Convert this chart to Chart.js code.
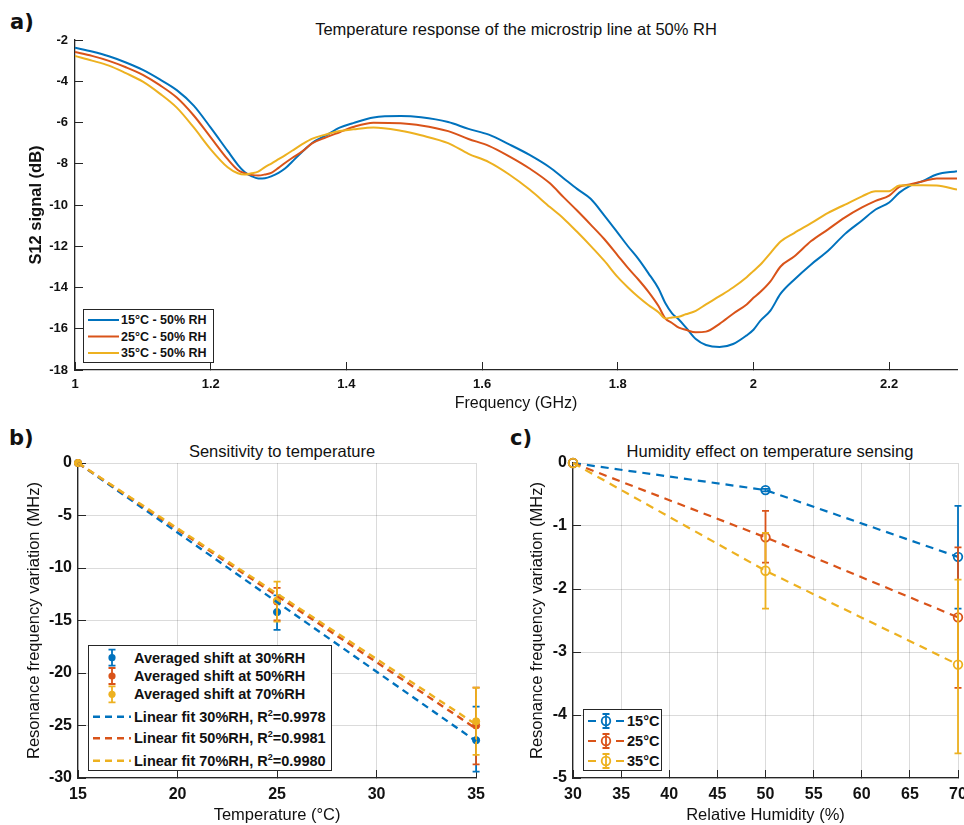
<!DOCTYPE html>
<html><head><meta charset="utf-8">
<script src="https://cdn.jsdelivr.net/npm/chart.js@4.4.0/dist/chart.umd.min.js"></script>
<style>
html,body{margin:0;padding:0;background:#fff;overflow:hidden;width:964px;height:825px;}
body{position:relative;font-family:"Liberation Sans",Arial,sans-serif;color:#1a1a1a;}
.panel{position:absolute;}
.lbl{position:absolute;font-family:"DejaVu Sans",sans-serif;font-weight:bold;font-size:21px;line-height:1;color:#111;}
.ttl{position:absolute;transform:translate(-50%,-50%);white-space:nowrap;font-size:16.5px;line-height:1;color:#111;}
.legend{position:absolute;background:#fff;border:1.2px solid #262626;box-sizing:border-box;}
.legend svg{position:absolute;left:0;top:0;}
.row{position:absolute;white-space:nowrap;font-weight:bold;line-height:1;transform:translateY(-50%);color:#111;}
.row sup{font-size:9px;vertical-align:6px;line-height:0;}
</style></head><body>

<div class="lbl" style="left:10px;top:12px;">a)</div>
<div class="ttl" style="left:516px;top:29px;">Temperature response of the microstrip line at 50% RH</div>
<div class="panel" style="left:0;top:0;width:964px;height:420px;"><canvas id="cA"></canvas></div>

<div class="lbl" style="left:9px;top:428px;">b)</div>
<div class="ttl" style="left:282px;top:451px;">Sensitivity to temperature</div>
<div class="panel" style="left:0;top:420px;width:500px;height:405px;"><canvas id="cB"></canvas></div>

<div class="lbl" style="left:510px;top:428px;">c)</div>
<div class="ttl" style="left:770px;top:451px;">Humidity effect on temperature sensing</div>
<div class="panel" style="left:482px;top:420px;width:500px;height:405px;"><canvas id="cC"></canvas></div>

<div id="legA" class="legend" style="left:83px;top:309px;width:131px;height:54px;"></div>
<div id="legB" class="legend" style="left:88px;top:645px;width:244px;height:126px;"></div>
<div id="legC" class="legend" style="left:583px;top:709px;width:79px;height:62px;"></div>

<script>
// ---------------- Panel a data ----------------
const freqGHz = [1.00,1.025,1.05,1.075,1.10,1.125,1.15,1.175,1.20,1.225,1.24,1.25,1.26,1.27,1.28,1.29,1.30,1.31,1.32,1.335,1.35,1.37,1.39,1.41,1.44,1.48,1.51,1.55,1.58,1.61,1.64,1.67,1.70,1.72,1.74,1.76,1.78,1.80,1.815,1.83,1.845,1.86,1.87,1.88,1.89,1.90,1.915,1.93,1.95,1.97,1.99,2.00,2.01,2.025,2.04,2.06,2.085,2.11,2.135,2.16,2.18,2.20,2.215,2.23,2.25,2.27,2.30];
const s12_15C = [-2.37,-2.56,-2.79,-3.09,-3.45,-3.91,-4.43,-5.18,-6.25,-7.38,-8.05,-8.40,-8.60,-8.71,-8.70,-8.60,-8.44,-8.22,-7.90,-7.42,-6.98,-6.63,-6.25,-6.03,-5.76,-5.69,-5.75,-5.98,-6.31,-6.59,-7.06,-7.57,-8.18,-8.70,-9.22,-9.70,-10.50,-11.35,-12.00,-12.60,-13.30,-14.05,-14.75,-15.25,-15.55,-15.92,-16.50,-16.79,-16.89,-16.74,-16.32,-16.05,-15.62,-15.12,-14.30,-13.62,-12.88,-12.22,-11.40,-10.75,-10.22,-9.88,-9.40,-9.08,-8.83,-8.52,-8.36];
const s12_25C = [-2.58,-2.77,-3.01,-3.32,-3.69,-4.19,-4.79,-5.66,-6.72,-7.78,-8.30,-8.46,-8.54,-8.57,-8.52,-8.43,-8.20,-7.95,-7.72,-7.40,-7.00,-6.72,-6.47,-6.22,-6.01,-6.04,-6.14,-6.42,-6.80,-7.13,-7.64,-8.23,-8.95,-9.62,-10.27,-10.95,-11.65,-12.45,-13.05,-13.60,-14.20,-14.90,-15.50,-15.72,-15.95,-16.05,-16.17,-16.14,-15.76,-15.27,-14.82,-14.50,-14.22,-13.70,-12.98,-12.50,-11.75,-11.18,-10.60,-10.12,-9.80,-9.55,-9.12,-9.00,-8.85,-8.71,-8.72];
const s12_35C = [-2.78,-3.00,-3.24,-3.61,-4.02,-4.60,-5.28,-6.24,-7.30,-8.17,-8.46,-8.52,-8.46,-8.38,-8.16,-7.98,-7.78,-7.58,-7.37,-7.05,-6.78,-6.58,-6.41,-6.33,-6.24,-6.40,-6.62,-7.00,-7.52,-7.92,-8.52,-9.25,-10.10,-10.65,-11.30,-11.98,-12.70,-13.50,-14.00,-14.45,-14.85,-15.20,-15.50,-15.45,-15.42,-15.30,-15.13,-14.82,-14.42,-14.00,-13.50,-13.20,-12.90,-12.33,-11.77,-11.36,-10.88,-10.38,-9.98,-9.58,-9.33,-9.33,-9.05,-9.04,-9.04,-9.05,-9.25];
const seriesA = ['15°C - 50% RH','25°C - 50% RH','35°C - 50% RH'];
const freqTicks = [1, 1.2, 1.4, 1.6, 1.8, 2, 2.2];
const s12Ticks = [-2, -4, -6, -8, -10, -12, -14, -16, -18];

// ---------------- Panel b data ----------------
const tempC = [15, 25, 35];
const shift30 = [0, -14.2, -26.4];
const shift30Low = [null, -15.9, -29.4];
const shift30High = [null, -12.6, -23.2];
const shift50 = [0, -13.2, -25.0];
const shift50Low = [null, -15.0, -28.7];
const shift50High = [null, -11.9, -21.4];
const shift70 = [0, -13.1, -24.6];
const shift70Low = [null, -15.1, -27.8];
const shift70High = [null, -11.3, -21.4];
const fitTemp = [15, 35];
const fit30 = [0, -26.5];
const fit50 = [0, -25.3];
const fit70 = [0, -24.9];
const avgLabels = ['Averaged shift at 30%RH','Averaged shift at 50%RH','Averaged shift at 70%RH'];
const fitNames = ['Linear fit 30%RH','Linear fit 50%RH','Linear fit 70%RH'];
const fitR2 = ['0.9978','0.9981','0.9980'];
const tempTicks = [15, 20, 25, 30, 35];
const shiftTicks = [0, -5, -10, -15, -20, -25, -30];

// ---------------- Panel c data ----------------
const rhPct = [30, 50, 70];
const d15 = [0, -0.43, -1.49];
const d15Low = [null, -0.45, -2.31];
const d15High = [null, -0.41, -0.68];
const d25 = [0, -1.18, -2.45];
const d25Low = [null, -1.58, -3.57];
const d25High = [null, -0.76, -1.34];
const d35 = [0, -1.71, -3.20];
const d35Low = [null, -2.31, -4.61];
const d35High = [null, -1.11, -1.85];
const seriesC = ['15°C','25°C','35°C'];
const rhTicks = [30, 35, 40, 45, 50, 55, 60, 65, 70];
const rhShiftTicks = [0, -1, -2, -3, -4, -5];

// ---------------- styling ----------------
const C_BLUE = '#0072BD', C_RED = '#D95319', C_YEL = '#EDB120';
const FF = '"Liberation Sans", Arial, sans-serif';
const AX = '#262626', GRID = 'rgba(0,0,0,0.14)', TXT = '#111';
const pts = (xs, ys) => xs.map((x, i) => ({x: x, y: ys[i]}));

const errorBars = {
  id: 'errorBars',
  beforeDatasetDraw(chart, args) {
    const ds = chart.data.datasets[args.index];
    if (!ds.errLow) return;
    const xs = chart.scales.x, ys = chart.scales.y, ctx = chart.ctx;
    const cap = ds.errCap || 3.5;
    ctx.save();
    ctx.setLineDash([]);
    ctx.strokeStyle = ds.errColor;
    ctx.lineWidth = ds.errWidth || 1.8;
    ds.data.forEach((p, i) => {
      const lo = ds.errLow[i], hi = ds.errHigh[i];
      if (lo == null || hi == null) return;
      const x = xs.getPixelForValue(p.x), y1 = ys.getPixelForValue(lo), y2 = ys.getPixelForValue(hi);
      ctx.beginPath();
      ctx.moveTo(x, y1); ctx.lineTo(x, y2);
      ctx.moveTo(x - cap, y1); ctx.lineTo(x + cap, y1);
      ctx.moveTo(x - cap, y2); ctx.lineTo(x + cap, y2);
      ctx.stroke();
    });
    ctx.restore();
  }
};

function axis(opts) {
  return {
    type: 'linear', min: opts.min, max: opts.max,
    afterBuildTicks: s => { s.ticks = opts.ticks.map(v => ({value: v})); },
    afterFit: s => { if (opts.w != null) s.width = opts.w; if (opts.h != null) s.height = opts.h; },
    grid: {display: true, drawOnChartArea: opts.grid, color: GRID, lineWidth: 1, drawTicks: true,
           tickLength: -8, tickColor: AX, tickWidth: 1},
    border: {display: true, color: AX, width: 1.3},
    ticks: {padding: opts.pad, color: TXT, autoSkip: false, maxRotation: 0, minRotation: 0,
            font: {family: FF, size: opts.tickSize, weight: 'bold'}, callback: v => String(v)},
    title: {display: true, text: opts.title, color: TXT,
            font: {family: FF, size: opts.titleSize, weight: opts.titleWeight || 'normal'},
            padding: {top: 0, bottom: opts.titlePadB || 0}}
  };
}

const base = {
  responsive: true, maintainAspectRatio: false, animation: false, devicePixelRatio: 1, events: [],
  plugins: {legend: {display: false}, tooltip: {enabled: false}, title: {display: false}}
};

// ---------------- Panel a ----------------
const colsA = [C_BLUE, C_RED, C_YEL];
const dataA = [s12_15C, s12_25C, s12_35C];
new Chart(document.getElementById('cA'), {
  type: 'line',
  data: {datasets: dataA.map((d, i) => ({
    label: seriesA[i], data: pts(freqGHz, d), borderColor: colsA[i], borderWidth: 2,
    pointRadius: 0, cubicInterpolationMode: 'monotone', order: 3 - i
  }))},
  options: Object.assign({}, base, {
    layout: {padding: {top: 40, right: 7, bottom: 0, left: 27}},
    scales: {
      x: axis({min: 1, max: 2.3, ticks: freqTicks, h: 50, grid: false, pad: 15, tickSize: 13,
               title: 'Frequency (GHz)', titleSize: 16, titlePadB: 7}),
      y: axis({min: -18, max: -2, ticks: s12Ticks, w: 48, grid: false, pad: 15, tickSize: 13,
               title: 'S12 signal (dB)', titleSize: 16.5, titleWeight: 'bold'})
    }
  })
});

// ---------------- Panel b ----------------
const ptsB = [[shift30, shift30Low, shift30High], [shift50, shift50Low, shift50High], [shift70, shift70Low, shift70High]];
const fitsB = [fit30, fit50, fit70];
const dsB = [];
fitsB.forEach((f, i) => dsB.push({
  label: fitNames[i], data: pts(fitTemp, f), borderColor: colsA[i], borderWidth: 2.4,
  borderDash: [7, 5], pointRadius: 0, order: 3 - i, clip: false
}));
ptsB.forEach((p, i) => dsB.push({
  label: avgLabels[i], data: pts(tempC, p[0]), showLine: false, pointRadius: 3.6,
  pointBackgroundColor: colsA[i], pointBorderColor: colsA[i], pointBorderWidth: 1,
  errLow: p[1], errHigh: p[2], errColor: colsA[i], errWidth: 1.8, errCap: 3.5,
  order: 6 - i, clip: false
}));
new Chart(document.getElementById('cB'), {
  type: 'line',
  data: {datasets: dsB},
  plugins: [errorBars],
  options: Object.assign({}, base, {
    layout: {padding: {top: 43, right: 14, bottom: 0, left: 25}},
    scales: {
      x: axis({min: 15, max: 35, ticks: tempTicks, h: 47, grid: true, pad: 15, tickSize: 16,
               title: 'Temperature (°C)', titleSize: 16.5}),
      y: axis({min: -30, max: 0, ticks: shiftTicks, w: 53, grid: true, pad: 14, tickSize: 16,
               title: 'Resonance frequency variation (MHz)', titleSize: 16.5})
    }
  })
});

// ---------------- Panel c ----------------
const serC = [[d15, d15Low, d15High], [d25, d25Low, d25High], [d35, d35Low, d35High]];
new Chart(document.getElementById('cC'), {
  type: 'line',
  data: {datasets: serC.map((p, i) => ({
    label: seriesC[i], data: pts(rhPct, p[0]), borderColor: colsA[i], borderWidth: 2.2,
    borderDash: [8, 6], pointRadius: 4.3, pointBorderWidth: 1.8, pointBorderColor: colsA[i],
    pointBackgroundColor: 'rgba(255,255,255,0)',
    errLow: p[1], errHigh: p[2], errColor: colsA[i], errWidth: 1.8, errCap: 3.5,
    order: 3 - i, clip: false
  }))},
  plugins: [errorBars],
  options: Object.assign({}, base, {
    layout: {padding: {top: 43, right: 24, bottom: 0, left: 46}},
    scales: {
      x: axis({min: 30, max: 70, ticks: rhTicks, h: 47, grid: true, pad: 15, tickSize: 16,
               title: 'Relative Humidity (%)', titleSize: 16.5}),
      y: axis({min: -5, max: 0, ticks: rhShiftTicks, w: 45, grid: true, pad: 14, tickSize: 16,
               title: 'Resonance frequency variation (MHz)', titleSize: 16.5})
    }
  })
});

// ---------------- Legends (HTML) ----------------
function svgEl(w, h, inner) { return '<svg width="' + w + '" height="' + h + '">' + inner + '</svg>'; }
function row(x, y, size, html) { return '<span class="row" style="left:' + x + 'px;top:' + y + 'px;font-size:' + size + 'px">' + html + '</span>'; }

// legend a
(function () {
  const ys = [10, 26.5, 43];
  let g = '', t = '';
  ys.forEach((y, i) => {
    g += '<line x1="4" x2="35" y1="' + y + '" y2="' + y + '" stroke="' + colsA[i] + '" stroke-width="2"/>';
    t += row(37, y, 12.5, seriesA[i]);
  });
  document.getElementById('legA').innerHTML = svgEl(131, 54, g) + t;
})();

// legend b
(function () {
  const ysP = [11.7, 30, 48.3], ysF = [70.7, 92.3, 114.7];
  let g = '', t = '';
  ysP.forEach((y, i) => {
    const c = colsA[i];
    g += '<path d="M23 ' + (y - 8) + 'V' + (y + 8) + 'M19.5 ' + (y - 8) + 'H26.5M19.5 ' + (y + 8) + 'H26.5" stroke="' + c + '" stroke-width="1.8" fill="none"/>';
    g += '<circle cx="23" cy="' + y + '" r="3.6" fill="' + c + '"/>';
    t += row(45, y, 14.5, avgLabels[i]);
  });
  ysF.forEach((y, i) => {
    g += '<line x1="4" x2="42" y1="' + y + '" y2="' + y + '" stroke="' + colsA[i] + '" stroke-width="2.4" stroke-dasharray="7 5"/>';
    t += row(45, y, 14.5, fitNames[i] + ', R<sup>2</sup>=' + fitR2[i]);
  });
  document.getElementById('legB').innerHTML = svgEl(244, 126, g) + t;
})();

// legend c
(function () {
  const ys = [11, 31, 51];
  let g = '', t = '';
  ys.forEach((y, i) => {
    const c = colsA[i];
    g += '<path d="M4 ' + y + 'H12M32 ' + y + 'H40" stroke="' + c + '" stroke-width="2.2" fill="none"/>';
    g += '<path d="M22 ' + (y - 7) + 'V' + (y + 7) + 'M18.5 ' + (y - 7) + 'H25.5M18.5 ' + (y + 7) + 'H25.5" stroke="' + c + '" stroke-width="1.8" fill="none"/>';
    g += '<circle cx="22" cy="' + y + '" r="4.3" stroke="' + c + '" stroke-width="1.8" fill="none"/>';
    t += row(43, y, 14.5, seriesC[i]);
  });
  document.getElementById('legC').innerHTML = svgEl(79, 62, g) + t;
})();
</script>
</body></html>
